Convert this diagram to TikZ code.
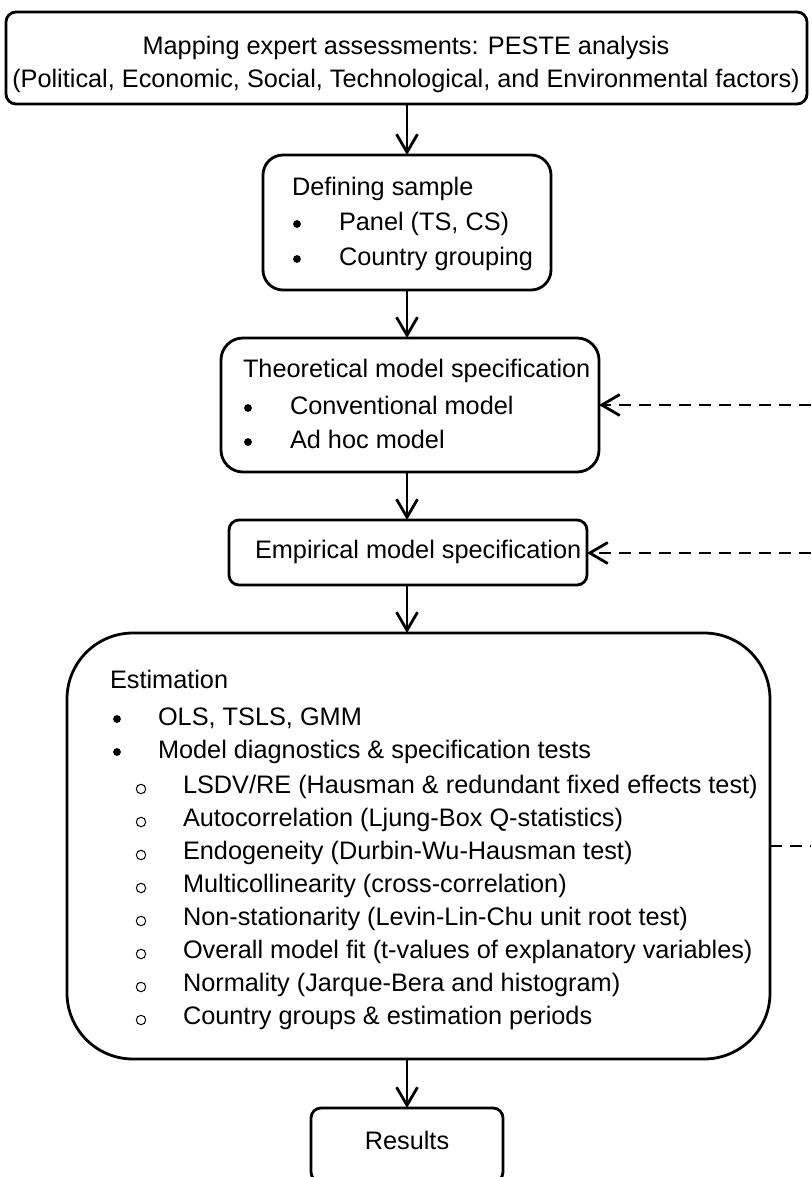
\documentclass[tikz,border=0pt]{standalone}
\usepackage{fontspec}
\setmainfont{Liberation Sans}
\setmonofont{Liberation Mono}
\usetikzlibrary{arrows.meta,fit}
\begin{document}
\begin{tikzpicture}[x=0.5pt,y=-0.5pt,
  box/.style={draw, line width=1.4pt, inner sep=0pt, outer sep=0pt},
  txt/.style={inner sep=0pt, outer sep=0pt, font=\fontsize{12.65}{15}\selectfont},
  lbl/.style={txt, anchor=mid west},
  ctr/.style={txt, anchor=mid},
  dot/.style={circle, fill, inner sep=0pt, minimum size=3.9pt},
  sub/.style={circle, draw, line width=0.5pt, inner sep=0pt, minimum size=4.7pt},
  arr/.style={line width=1.4pt, -{Straight Barb[length=9pt,width=10.5pt]}},
  fbline/.style={line width=1.4pt, dash pattern=on 6pt off 4pt},
  fb/.style={arr, fbline}]
\useasboundingbox (0,0) rectangle (811,1177);

% common vertical axis of the main flow
\coordinate (axis) at (407,0);

% boxes
\node[box, rounded corners=5pt,  fit={(6,12) (807,104)}]    (peste) {};
\node[box, rounded corners=10pt, fit={(263,155) (551,290)}] (sample) {};
\node[box, rounded corners=11pt, fit={(221,338) (599,472)}] (theo) {};
\node[box, rounded corners=5pt,  fit={(229,520) (587,585)}] (emp) {};
\node[box, rounded corners=33pt, fit={(67,633) (770,1059)}] (est) {};
\node[box, rounded corners=5pt,  fit={(311,1108) (503,1182)}] (res) {};

% PESTE box text
\node[ctr] (p1) at (406,49) {Mapping expert assessments: PESTE analysis};
\node[ctr] (p2) at (406,82) {(Political, Economic, Social, Technological, and Environmental factors)};

% sample box text
\node[lbl] (s0) at (292,190) {Defining sample};
\node[dot] (s1b) at (297,224) {};
\node[lbl] (s1) at (339,225) {Panel (TS, CS)};
\node[dot] (s2b) at (297,259) {};
\node[lbl] (s2) at (339,260) {Country grouping};

% theoretical model text
\node[lbl] (m0) at (243,372) {Theoretical model specification};
\node[dot] (m1b) at (248,408) {};
\node[lbl] (m1) at (290,409) {Conventional model};
\node[dot] (m2b) at (248,442) {};
\node[lbl] (m2) at (290,443) {Ad hoc model};

% empirical model text
\node[lbl] (e0) at (255,553) {Empirical model specification};

% estimation text
\node[lbl] (x0) at (110,683) {Estimation};
\node[dot] (x1b) at (117,719) {};
\node[lbl] (x1) at (158,720) {OLS, TSLS, GMM};
\node[dot] (x2b) at (117,752) {};
\node[lbl] (x2) at (158,753) {Model diagnostics \& specification tests};
\foreach \i/\yy/\t in {
  a/788/{LSDV/RE (Hausman \& redundant fixed effects test)},
  b/821/{Autocorrelation (Ljung-Box Q-statistics)},
  c/854/{Endogeneity (Durbin-Wu-Hausman test)},
  d/887/{Multicollinearity (cross-correlation)},
  e/920/{Non-stationarity (Levin-Lin-Chu unit root test)},
  f/953/{Overall model fit (t-values of explanatory variables)},
  g/986/{Normality (Jarque-Bera and histogram)},
  h/1019/{Country groups \& estimation periods}} {
  \node[sub] (y\i b) at (141,\yy+1) {};
  \node[lbl] (y\i) at (183,\yy) {\t};
}

% results text
\node[ctr] (r0) at (407,1144) {Results};

% main flow
\draw[arr] (peste.south -| axis) -- (sample.north -| axis);
\draw[arr] (sample.south -| axis) -- (theo.north -| axis);
\draw[arr] (theo.south -| axis) -- (emp.north -| axis);
\draw[arr] (emp.south -| axis) -- (est.north -| axis);
\draw[arr] (est.south -| axis) -- (res.north -| axis);

% feedback lines leaving the right side
\coordinate (fb1) at (811,405);
\coordinate (fb2) at (811,553);
\coordinate (fb3) at (811,846);
\draw[fb] (fb1) -- (theo.east |- fb1);
\draw[fb] (fb2) -- (emp.east |- fb2);
\draw[fbline] (est.east |- fb3) -- (fb3);
\end{tikzpicture}
\end{document}
